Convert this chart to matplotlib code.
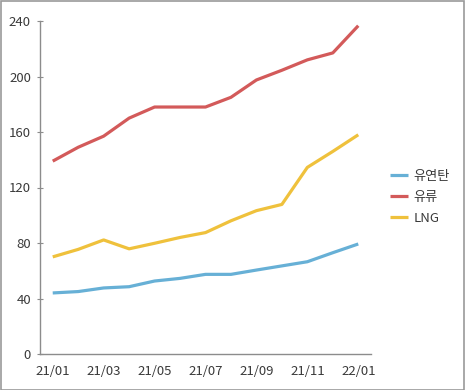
import matplotlib
matplotlib.use('Agg')
import matplotlib.pyplot as plt
from matplotlib.patches import Rectangle

# 한글 폰트 설정
plt.rcParams['font.family'] = ['Noto Sans CJK KR', 'DejaVu Sans']
plt.rcParams['axes.unicode_minus'] = False

# 데이터
months = ['21/01', '21/02', '21/03', '21/04', '21/05', '21/06', '21/07',
          '21/08', '21/09', '21/10', '21/11', '21/12', '22/01']
coal = [44, 45, 47.6, 48.5, 52.6, 54.5, 57.4, 57.4, 60.5, 63.5, 66.5, 73, 79.3]
oil = [139, 149, 157, 170, 178, 178, 178, 185, 197.5, 204.5, 212, 217, 236.6]
lng = [70, 75.4, 82.2, 75.8, 79.8, 84, 87.5, 96, 103.3, 107.8, 134.5, 146, 158]
series_names = ['유연탄', '유류', 'LNG']
colors = ['#67b0d6', '#d35a5a', '#efc13c']
yticks = [0, 40, 80, 120, 160, 200, 240]

fig = plt.figure(figsize=(4.65, 3.9), dpi=100)
ax = fig.add_axes([40 / 465, 1 - 354 / 390, 331 / 465, 333 / 390])

x = range(len(months))
for vals, name, c in zip([coal, oil, lng], series_names, colors):
    ax.plot(x, vals, color=c, lw=2.3, label=name, solid_capstyle='butt')

ax.set_xlim(-0.5, len(months) - 0.5)
ax.set_ylim(0, 240)
ax.set_yticks(yticks)
ax.set_xticks(list(x)[::2])
ax.set_xticklabels(months[::2])

for s in ['top', 'right']:
    ax.spines[s].set_visible(False)
for s in ['left', 'bottom']:
    ax.spines[s].set_color('#8c8c8c')
    ax.spines[s].set_linewidth(1.0)
ax.tick_params(axis='y', direction='inout', length=5, width=0.8, color='#8c8c8c',
               labelsize=9.5, labelcolor='#3a3a3a', pad=4)
ax.tick_params(axis='x', length=0, labelsize=9.5, labelcolor='#3a3a3a', pad=8)

ax.legend(loc='upper left', bbox_to_anchor=(378 / 465, 1 - 158 / 390),
          bbox_transform=fig.transFigure, frameon=False, fontsize=9.5,
          handlelength=1.4, handletextpad=0.4, labelspacing=0.6,
          labelcolor='#3a3a3a')

# 외곽 테두리
fig.patches.append(Rectangle((0.5 / 465, 0.5 / 390), 1 - 1.5 / 465, 1 - 1.5 / 390,
                             transform=fig.transFigure, fill=False,
                             edgecolor='#999999', lw=1.2))

fig.savefig('out.png', dpi=100)
